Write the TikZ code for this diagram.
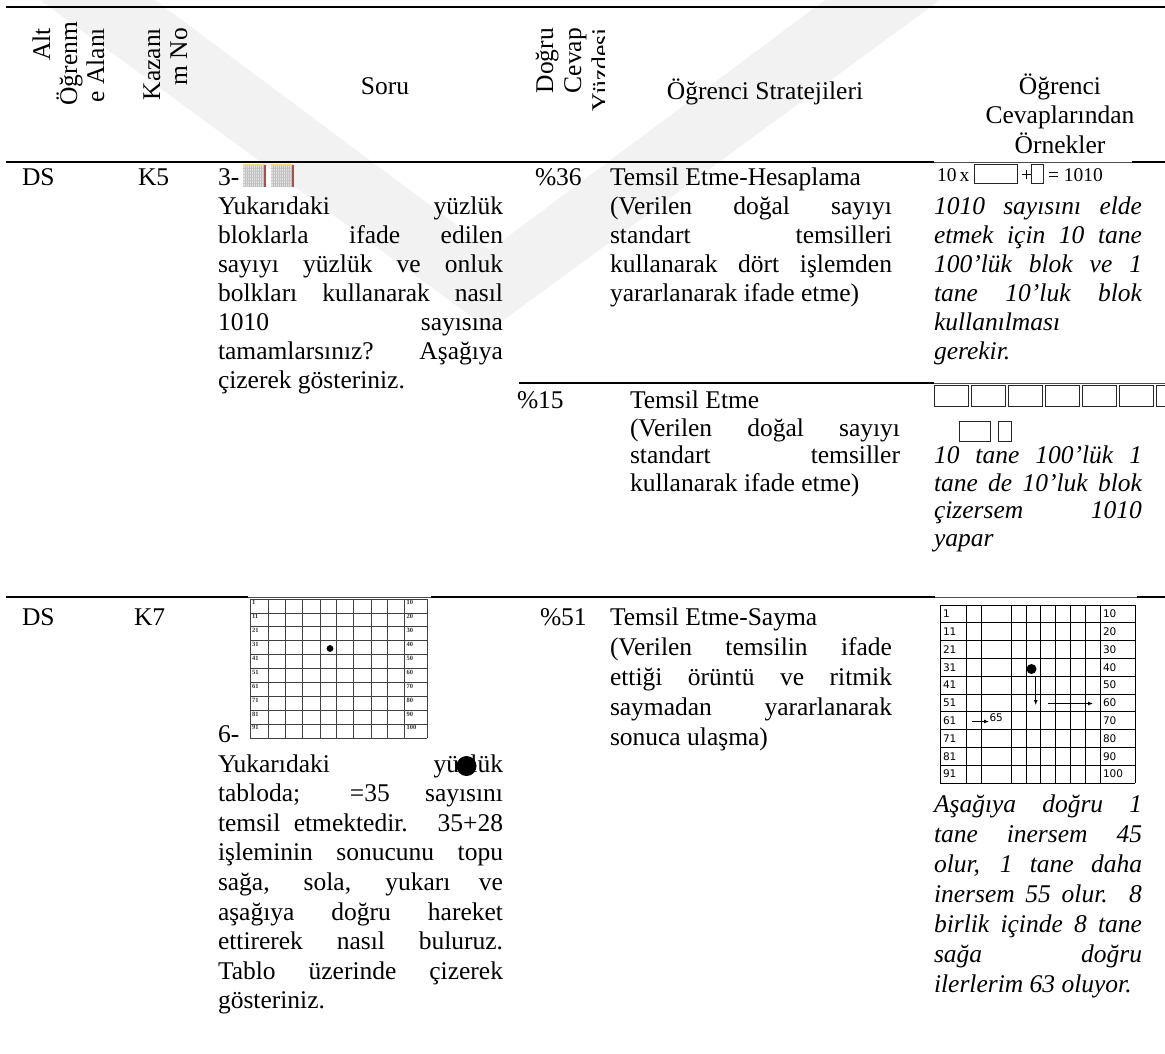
\documentclass[tikz,border=0pt]{standalone}
\usepackage{fontspec}
\setmainfont{Liberation Serif}
\newfontfamily\gridsans{DejaVu Sans}
\usetikzlibrary{arrows.meta}
% one justified line of given width
\newcommand\Jl[2]{\makebox[#1pt][s]{#2}}
% a stack of lines: prefix, style, x, first baseline, skip, list
\newcommand\putlines[6]{%
  \foreach \tx [count=\k from 0] in {#6} {%
    \pgfmathsetmacro\yy{#4+#5*\k}%
    \node[#2, name=#1\k] at (#3,\yy) {\tx};
  }%
}
\begin{document}
\begin{tikzpicture}[x=1pt,y=-1pt,
  every node/.style={inner sep=0pt, outer sep=0pt},
  body/.style={anchor=base west, font=\fontsize{25.5}{29.5}\selectfont},
  ital/.style={anchor=base west, font=\fontsize{25.5}{29.5}\selectfont\itshape},
  head/.style={anchor=base, font=\fontsize{25.5}{29.5}\selectfont},
  vhead/.style={anchor=base east, rotate=90, font=\fontsize{25.5}{29.5}\selectfont},
  rulethick/.style={line width=2.8pt},
  rulethin/.style={line width=0.7pt, draw=black!70},
  gridline/.style={line width=0.7pt, draw=black!75},
  ansbox/.style={draw=black!85, line width=0.9pt},
  tinynum/.style={anchor=north west, font=\fontsize{6.5}{7}\selectfont\bfseries, text=black!80},
  sansnum/.style={anchor=west, font=\gridsans\fontsize{10.5}{11}\selectfont},
]
\useasboundingbox (0,0) rectangle (1165,1053);
\fill[white] (0,0) rectangle (1165,1053);

% faint chevron watermark behind the table
\fill[black!5] (40,0) -- (490,330) -- (940,0) -- (825,0) -- (490,250) -- (155,0) -- cycle;

% ---------------- rules ----------------
\coordinate (r0l) at (6,7);     \coordinate (r0r) at (1165,7);
\draw[rulethick] (r0l) -- (r0r);
\coordinate (r1l) at (6,162);   \coordinate (r1r) at (1165,162);
\coordinate (r1a) at (934,162); \coordinate (r1b) at (1132,162);
\draw[rulethick] (r1l) -- (r1a);
\draw[rulethick] (r1b) -- (r1r);
\coordinate (r2l) at (519,383); \coordinate (r2a) at (934,383); \coordinate (r2r) at (1165,383);
\draw[rulethick] (r2l) -- (r2a);
\coordinate (r3l) at (6,597);   \coordinate (r3a) at (248,597); \coordinate (r3b) at (431,597);
\coordinate (r3c) at (935,597); \coordinate (r3d) at (1137,597); \coordinate (r3r) at (1165,597);
\draw[rulethick] (r3l) -- (r3a);
\draw[rulethick] (r3b) -- (r3c);
\draw[rulethick] (r3d) -- (r3r);

% white backgrounds of the answer pictures, with their thin top edges
\fill[white] (934,160.6) rectangle (1132,186);
\fill[white] (934,381.6) rectangle (1165,445);
\draw[rulethin] (r1a) -- (r1b);
\draw[rulethin] (r2a) -- (r2r);
\draw[rulethin] (r3a) -- (r3b);
\draw[rulethin] (r3c) -- (r3d);

% ---------------- header ----------------
\node[vhead] (hAlt) at (50,28) {Alt};
\node[vhead] (hOgr) at (77,22) {Öğrenm};
\node[vhead] (hAla) at (104,28) {e Alanı};
\node[vhead] (hKaz) at (160,28) {Kazanı};
\node[vhead] (hMNo) at (187,28) {m No};
\node[head] (hSoru) at (385,94) {Soru};
\node[vhead] (hDog) at (553,28) {Doğru};
\node[vhead] (hCev) at (581,28) {Cevap};
\begin{scope}
  \clip (590,8) rectangle (604,160);
  \node[vhead] (hYuz) at (609,28) {Yüzdesi};
\end{scope}
\node[head] (hStr) at (765,99) {Öğrenci Stratejileri};
\node[head] (hOrn1) at (1060,94) {Öğrenci};
\node[head] (hOrn2) at (1060,123.5) {Cevaplarından};
\node[head] (hOrn3) at (1060,153) {Örnekler};

% ---------------- row 1 ----------------
\node[body] (ds1) at (22,185) {DS};
\node[body] (k5) at (138,185) {K5};
\node[body] (q3) at (218,185) {3-};
% two hundred-blocks
\foreach \bx [count=\i] in {243,271} {
  \fill[black!12] (\bx,165) rectangle ++(22,22);
  \foreach \g in {2,4,...,20} \draw[black!25, line width=0.3pt] (\bx+\g,165) -- (\bx+\g,187);
  \foreach \g in {3,6,...,21} \draw[black!22, line width=0.3pt] (\bx,165+\g) -- (\bx+22,165+\g);
  \fill[yellow!55!brown!60] (\bx,164) rectangle (\bx+22,166);
  \fill[red!55!black!70] (\bx+20.5,165) rectangle (\bx+22.5,187);
  \node[minimum width=22pt, minimum height=22pt, anchor=north west] (blk\i) at (\bx,165) {};
}
\putlines{qa}{body}{218}{214}{29}{%
  {\Jl{285}{Yukarıdaki yüzlük}},
  {\Jl{285}{bloklarla ifade edilen}},
  {\Jl{285}{sayıyı yüzlük ve onluk}},
  {\Jl{285}{bolkları kullanarak nasıl}},
  {\Jl{285}{1010 sayısına}},
  {\Jl{285}{tamamlarsınız? Aşağıya}},
  {çizerek gösteriniz.}}
\node[body] (p36) at (535,185) {\%36};
\putlines{sa}{body}{610}{185}{29}{%
  {Temsil Etme-Hesaplama},
  {\Jl{282}{(Verilen doğal sayıyı}},
  {\Jl{282}{standart temsilleri}},
  {\Jl{282}{kullanarak dört işlemden}},
  {yararlanarak ifade etme)}}
% equation
\node[anchor=base west, font=\fontsize{19.5}{20}\selectfont] (eq10) at (937,181) {10\,x};
\draw[ansbox] (974,164) rectangle (1017,183);
\node[anchor=base west, font=\fontsize{19.5}{20}\selectfont] (eqp) at (1021,181) {+};
\draw[ansbox] (1031,164) rectangle (1043,183);
\node[anchor=base west, font=\fontsize{19.5}{20}\selectfont] (eqr) at (1048,181) {= 1010};
\putlines{ea}{ital}{934}{214}{29}{%
  {\Jl{208}{1010 sayısını elde}},
  {\Jl{208}{etmek için 10 tane}},
  {\Jl{208}{100'lük blok ve 1}},
  {\Jl{208}{tane 10'luk blok}},
  {kullanılması},
  {gerekir.}}

% ---------------- row 1b ----------------
\node[body] (p15) at (517,408.5) {\%15};
\putlines{sb}{body}{630}{408.5}{27.5}{%
  {Temsil Etme},
  {\Jl{270}{(Verilen doğal sayıyı}},
  {\Jl{270}{standart temsiller}},
  {kullanarak ifade etme)}}
\foreach \i in {0,...,6} {
  \draw[ansbox] (934+\i*37.1,385) rectangle ++(34,21);
}
\draw[ansbox] (959,421) rectangle (990,441);
\draw[ansbox] (998,421) rectangle (1011,441);
\putlines{eb}{ital}{934}{463.5}{27.5}{%
  {\Jl{208}{10 tane 100'lük 1}},
  {\Jl{208}{tane de 10'luk blok}},
  {\Jl{208}{çizersem 1010}},
  {yapar}}

% ---------------- row 2 ----------------
\node[body] (ds2) at (22,625) {DS};
\node[body] (k7) at (134,625) {K7};
\node[body] (p51) at (540,625) {\%51};
\putlines{sc}{body}{610}{625}{30}{%
  {Temsil Etme-Sayma},
  {\Jl{282}{(Verilen temsilin ifade}},
  {\Jl{282}{ettiği örüntü ve ritmik}},
  {\Jl{282}{saymadan yararlanarak}},
  {sonuca ulaşma)}}

% question hundred chart
\begin{scope}
  \fill[white] (248,598) rectangle (431,741);
  \foreach \gx in {250,268.4,285,302.7,320,336.7,353.5,370.9,387.5,404.7,427}
    \draw[gridline] (\gx,599) -- (\gx,738);
  \foreach \r in {0,...,10}
    \draw[gridline] (250,599+\r*13.9) -- (427,599+\r*13.9);
  \foreach \r in {0,...,9} {
    \pgfmathtruncatemacro\na{\r*10+1}
    \pgfmathtruncatemacro\nb{\r*10+10}
    \node[tinynum] (qn\na) at (252,600.5+\r*13.9) {\na};
    \node[tinynum] (qm\nb) at (406.5,600.5+\r*13.9) {\nb};
  }
  \fill (330,648.5) circle (3.4);
\end{scope}
\node[body] (q6) at (218,742.5) {6-};
\putlines{qb}{body}{218}{772}{29.6}{%
  {\Jl{285}{Yukarıdaki yüzlük}},
  {\Jl{285}{tabloda; =35 sayısını}},
  {\Jl{285}{temsil etmektedir. 35+28}},
  {\Jl{285}{işleminin sonucunu topu}},
  {\Jl{285}{sağa, sola, yukarı ve}},
  {\Jl{285}{aşağıya doğru hareket}},
  {\Jl{285}{ettirerek nasıl buluruz.}},
  {\Jl{285}{Tablo üzerinde çizerek}},
  {gösteriniz.}}
\fill (466.5,766) circle (10);

% answer hundred chart with moves
\begin{scope}
  \fill[white] (935,598) rectangle (1137,785);
  \foreach \gx in {940,966.7,981,1011.7,1026,1040,1055,1070,1085,1100,1135}
    \draw[line width=0.8pt] (\gx,605) -- (\gx,783);
  \foreach \r in {0,...,10}
    \draw[line width=0.8pt] (940,605+\r*17.8) -- (1135,605+\r*17.8);
  \foreach \r in {0,...,9} {
    \pgfmathtruncatemacro\na{\r*10+1}
    \pgfmathtruncatemacro\nb{\r*10+10}
    \node[sansnum] (an\na) at (943,613.9+\r*17.8) {\na};
    \node[sansnum] (am\nb) at (1103,613.9+\r*17.8) {\nb};
  }
  \fill (1031.5,669) circle (5);
  \coordinate (mvA) at (1035.7,677);  \coordinate (mvB) at (1035.7,705);
  \coordinate (mvC) at (1048,703.5);  \coordinate (mvD) at (1093,703.5);
  \coordinate (mvE) at (971.5,721.5); \coordinate (mvF) at (989,721.5);
  \draw[line width=0.8pt, -{Latex[length=5pt,width=4pt]}] (mvA) -- (mvB);
  \draw[line width=0.8pt, -{Latex[length=5pt,width=4pt]}] (mvC) -- (mvD);
  \draw[line width=0.8pt, -{Latex[length=5pt,width=4pt]}] (mvE) -- (mvF);
  \node[sansnum] (a65) at (989.5,717.5) {65};
\end{scope}
\putlines{ec}{ital}{934}{812.5}{30}{%
  {\Jl{208}{Aşağıya doğru 1}},
  {\Jl{208}{tane inersem 45}},
  {\Jl{208}{olur, 1 tane daha}},
  {\Jl{208}{inersem 55 olur. 8}},
  {\Jl{208}{birlik içinde 8 tane}},
  {\Jl{208}{sağa doğru}},
  {ilerlerim 63 oluyor.}}
\end{tikzpicture}
\end{document}
